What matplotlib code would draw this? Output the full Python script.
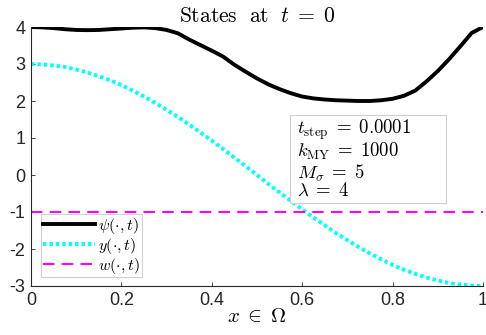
import numpy as np
import matplotlib
matplotlib.use("Agg")
import matplotlib.pyplot as plt
from matplotlib.patches import Rectangle

plt.rcParams['mathtext.fontset'] = 'cm'
plt.rcParams['font.family'] = ['Liberation Sans', 'DejaVu Sans']
plt.rcParams['axes.unicode_minus'] = False

# values
x = [0.0, 0.025, 0.05, 0.075, 0.1, 0.125, 0.15, 0.175, 0.2, 0.225, 0.25,
     0.275, 0.3, 0.325, 0.35, 0.375, 0.4, 0.425, 0.45, 0.475, 0.5,
     0.525, 0.55, 0.575, 0.6, 0.625, 0.65, 0.675, 0.7, 0.725, 0.75,
     0.775, 0.8, 0.825, 0.85, 0.875, 0.9, 0.925, 0.95, 0.975, 1.0]
psi = [4.00, 3.99, 3.97, 3.94, 3.92, 3.915, 3.92, 3.94, 3.96, 3.98, 3.99,
       3.97, 3.92, 3.83, 3.66, 3.51, 3.36, 3.20, 2.98, 2.79, 2.61,
       2.45, 2.32, 2.21, 2.12, 2.07, 2.04, 2.02, 2.01, 2.00, 2.00,
       2.02, 2.06, 2.14, 2.28, 2.53, 2.81, 3.13, 3.48, 3.84, 4.00]
y_state = [3.00, 2.99, 2.96, 2.92, 2.85, 2.77, 2.67, 2.56, 2.43, 2.28, 2.12,
           1.95, 1.76, 1.57, 1.36, 1.15, 0.93, 0.70, 0.47, 0.24, 0.00,
           -0.24, -0.47, -0.70, -0.93, -1.15, -1.36, -1.57, -1.76, -1.95, -2.12,
           -2.28, -2.43, -2.56, -2.67, -2.77, -2.85, -2.92, -2.96, -2.99, -3.00]
w_state = [-1.0] * len(x)

xticks = [0, 0.2, 0.4, 0.6, 0.8, 1]
xticklabels = ['0', '0.2', '0.4', '0.6', '0.8', '1']
yticks = [-3, -2, -1, 0, 1, 2, 3, 4]
yticklabels = ['-3', '-2', '-1', '0', '1', '2', '3', '4']

params = [r'$t_{\mathrm{step}}\;=\;0.0001$', r'$k_{\mathrm{MY}}\;=\;1000$',
          r'$M_{\sigma}\;=\;5$', r'$\lambda\;=\;4$']

fig = plt.figure(figsize=(4.86, 3.35), dpi=100)
ax = fig.add_axes([31 / 486, 1 - 286 / 335, 452 / 486, 259 / 335])

ax.plot(x, psi, color='black', lw=2.8, label=r'$\psi(\cdot,t)$')
ax.plot(x, y_state, color='cyan', lw=2.8, ls=(0, (0.9, 0.75)), label=r'$y(\cdot,t)$')
ax.plot(x, w_state, color='magenta', lw=1.5, ls=(0, (5.5, 3.5)), label=r'$w(\cdot,t)$')

ax.set_xlim(0, 1)
ax.set_ylim(-3, 4)
ax.set_xticks(xticks)
ax.set_xticklabels(xticklabels)
ax.set_yticks(yticks)
ax.set_yticklabels(yticklabels)
for s in ['top', 'right']:
    ax.spines[s].set_visible(False)
for s in ['left', 'bottom']:
    ax.spines[s].set_color('#262626')
    ax.spines[s].set_linewidth(0.8)
ax.tick_params(direction='in', length=3, width=0.6, colors='#262626',
               labelsize=13, pad=4)

ax.set_title(r'$\mathrm{States\ \ at}\ \ t\;=\;0$', fontsize=15.5, pad=2)
ax.set_xlabel(r'$x\;\in\;\Omega$', fontsize=15, labelpad=-1)

leg = ax.legend(loc='lower left', bbox_to_anchor=(0.022, 0.034), fontsize=11.5,
                handlelength=3.3, handletextpad=0.2, borderpad=0.1,
                labelspacing=0.0, fancybox=False, framealpha=1, borderaxespad=0)
leg.get_frame().set_edgecolor('#d0d0d0')
leg.get_frame().set_linewidth(0.8)

# parameter box
ax.add_patch(Rectangle((0.573, 0.320), 0.345, 0.340, transform=ax.transAxes,
                       fc='white', ec='#d0d0d0', lw=0.8, zorder=4))
ax.text(0.588, 0.652, '\n'.join(params), transform=ax.transAxes, fontsize=13.5,
        va='top', ha='left', linespacing=0.98, zorder=5)

fig.savefig('out.png', dpi=100)
